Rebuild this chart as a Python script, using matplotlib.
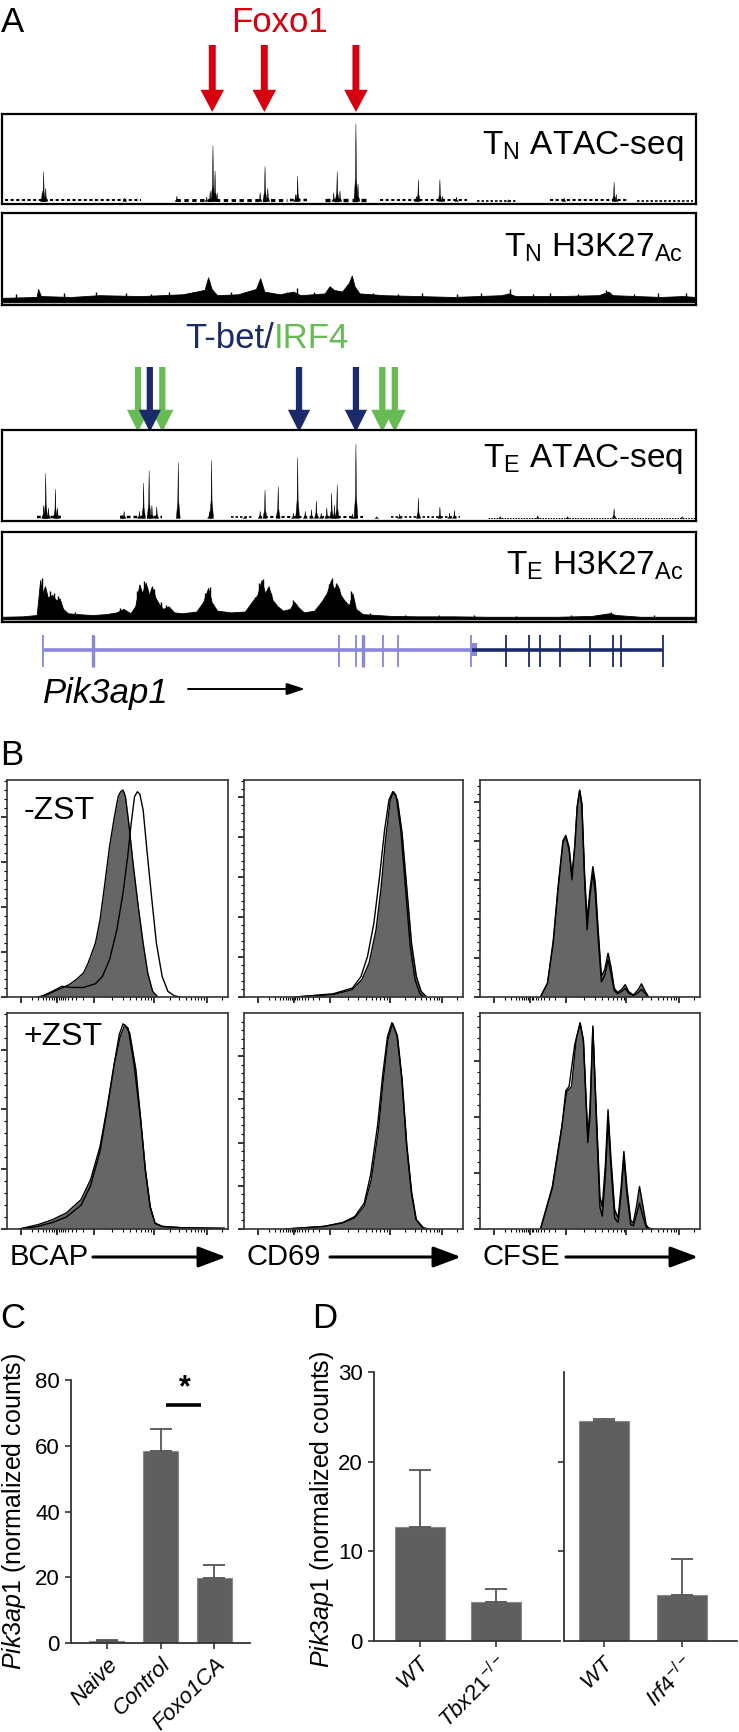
import numpy as np
import matplotlib
matplotlib.use("Agg")
import matplotlib.pyplot as plt
from matplotlib.patches import FancyArrowPatch

plt.rcParams['font.family'] = ['Liberation Sans', 'DejaVu Sans']
plt.rcParams['mathtext.fontset'] = 'custom'
plt.rcParams['mathtext.rm'] = 'Liberation Sans'
plt.rcParams['mathtext.it'] = 'Liberation Sans:italic'

W, H = 739, 1732
fig = plt.figure(figsize=(W / 100, H / 100), dpi=100)

# ---------------- data ----------------
# panel A, positions as fraction of the shown locus, heights as fraction of track
foxo1_sites = [0.303, 0.378, 0.510]
tbet_sites = [0.213, 0.428, 0.510]
irf4_sites = [0.196, 0.231, 0.548, 0.566]

tn_atac_peaks = [(0.060, 0.34), (0.058, 0.12), (0.063, 0.15), (0.177, 0.04), (0.252, 0.06),
                 (0.295, 0.05), (0.300, 0.12), (0.304, 0.64), (0.307, 0.35), (0.310, 0.10),
                 (0.372, 0.10), (0.379, 0.40), (0.383, 0.15), (0.423, 0.08), (0.426, 0.29),
                 (0.478, 0.10), (0.483, 0.34), (0.487, 0.12), (0.510, 0.89), (0.513, 0.20),
                 (0.597, 0.06), (0.600, 0.25), (0.631, 0.25), (0.635, 0.06), (0.655, 0.05),
                 (0.730, 0.02), (0.810, 0.04), (0.882, 0.22), (0.885, 0.08)]
tn_atac_base = [(0.005, 0.20, 0.025), (0.25, 0.41, 0.035), (0.415, 0.44, 0.03), (0.465, 0.53, 0.04),
                (0.545, 0.67, 0.025), (0.685, 0.74, 0.02), (0.79, 0.90, 0.025), (0.915, 0.995, 0.02)]

te_atac_peaks = [(0.063, 0.51), (0.060, 0.15), (0.067, 0.12), (0.077, 0.33), (0.080, 0.12),
                 (0.173, 0.04), (0.176, 0.08), (0.198, 0.08), (0.204, 0.40), (0.212, 0.54),
                 (0.216, 0.15), (0.223, 0.13), (0.254, 0.63), (0.299, 0.08), (0.302, 0.66),
                 (0.350, 0.02), (0.372, 0.08), (0.379, 0.32), (0.398, 0.36), (0.420, 0.06),
                 (0.426, 0.69), (0.437, 0.08), (0.446, 0.10), (0.453, 0.20), (0.460, 0.06),
                 (0.468, 0.12), (0.475, 0.29), (0.479, 0.15), (0.483, 0.38), (0.505, 0.05),
                 (0.510, 0.84), (0.540, 0.02), (0.573, 0.05), (0.600, 0.23), (0.631, 0.13),
                 (0.645, 0.06), (0.652, 0.09), (0.718, 0.02), (0.772, 0.03), (0.815, 0.02),
                 (0.882, 0.11), (0.980, 0.02)]
te_atac_base = [(0.05, 0.09, 0.03), (0.17, 0.23, 0.03), (0.33, 0.36, 0.02), (0.37, 0.52, 0.025),
                (0.56, 0.66, 0.02), (0.70, 1.0, 0.012)]

tn_h3k27_x = [0, 0.05, 0.052, 0.056, 0.10, 0.14, 0.20, 0.26, 0.28, 0.292, 0.297, 0.302, 0.31,
              0.34, 0.366, 0.372, 0.378, 0.40, 0.42, 0.43, 0.465, 0.472, 0.478, 0.49, 0.50,
              0.504, 0.508, 0.515, 0.55, 0.60, 0.65, 0.72, 0.73, 0.74, 0.80, 0.86, 0.874,
              0.88, 0.95, 0.98, 1.0]
tn_h3k27_y = [0.05, 0.06, 0.15, 0.07, 0.06, 0.08, 0.07, 0.09, 0.12, 0.14, 0.28, 0.15, 0.08,
              0.09, 0.15, 0.27, 0.12, 0.09, 0.12, 0.08, 0.10, 0.18, 0.14, 0.12, 0.22,
              0.30, 0.18, 0.10, 0.08, 0.07, 0.06, 0.08, 0.10, 0.07, 0.07, 0.08, 0.12,
              0.08, 0.06, 0.07, 0.06]
tn_h3k27_spikes = [(0.02, 0.09), (0.09, 0.10), (0.135, 0.11), (0.178, 0.10), (0.215, 0.09),
                   (0.24, 0.11), (0.275, 0.12), (0.33, 0.12), (0.35, 0.11), (0.41, 0.12),
                   (0.425, 0.16), (0.45, 0.11), (0.535, 0.10), (0.57, 0.09), (0.605, 0.10),
                   (0.655, 0.09), (0.69, 0.10), (0.732, 0.15), (0.765, 0.09), (0.79, 0.10),
                   (0.83, 0.09), (0.87, 0.14), (0.91, 0.09), (0.945, 0.10), (0.985, 0.10)]

te_h3k27_x = [0.0, 0.03, 0.05, 0.055, 0.058, 0.062, 0.066, 0.072, 0.078, 0.083, 0.088, 0.095,
              0.11, 0.13, 0.15, 0.165, 0.175, 0.185, 0.192, 0.198, 0.202, 0.207, 0.212, 0.216,
              0.221, 0.226, 0.232, 0.24, 0.248, 0.26, 0.27, 0.28, 0.29, 0.297, 0.302, 0.31,
              0.33, 0.35, 0.36, 0.368, 0.374, 0.379, 0.384, 0.39, 0.397, 0.405, 0.415, 0.421,
              0.427, 0.435, 0.45, 0.46, 0.468, 0.474, 0.478, 0.483, 0.488, 0.493, 0.50, 0.505,
              0.51, 0.52, 0.54, 0.56, 0.60, 0.65, 0.70, 0.75, 0.80, 0.85, 0.875, 0.885, 0.92,
              0.96, 1.0]
te_h3k27_y = [0.03, 0.035, 0.05, 0.45, 0.30, 0.38, 0.25, 0.28, 0.22, 0.24, 0.12, 0.07,
              0.06, 0.05, 0.06, 0.08, 0.12, 0.07, 0.15, 0.40, 0.30, 0.42, 0.28, 0.38,
              0.25, 0.18, 0.12, 0.15, 0.08, 0.07, 0.08, 0.09, 0.20, 0.36, 0.20, 0.10,
              0.08, 0.09, 0.20, 0.28, 0.45, 0.30, 0.38, 0.22, 0.15, 0.10, 0.12, 0.20,
              0.14, 0.08, 0.10, 0.20, 0.30, 0.45, 0.35, 0.40, 0.28, 0.22, 0.16, 0.30,
              0.12, 0.06, 0.05, 0.04, 0.035, 0.035, 0.03, 0.03, 0.03, 0.04, 0.07, 0.05, 0.03,
              0.03, 0.03]
te_h3k27_spikes = [(0.057, 0.47), (0.069, 0.33), (0.075, 0.30), (0.081, 0.27), (0.105, 0.08),
                   (0.17, 0.13), (0.195, 0.33), (0.204, 0.44), (0.209, 0.36), (0.219, 0.35),
                   (0.229, 0.20), (0.237, 0.17), (0.293, 0.30), (0.299, 0.37), (0.365, 0.26),
                   (0.371, 0.42), (0.376, 0.46), (0.387, 0.30), (0.419, 0.22), (0.424, 0.18),
                   (0.465, 0.26), (0.471, 0.40), (0.476, 0.47), (0.481, 0.42), (0.486, 0.36),
                   (0.503, 0.32), (0.53, 0.07), (0.58, 0.05), (0.63, 0.05), (0.68, 0.045),
                   (0.74, 0.04), (0.82, 0.045), (0.878, 0.08), (0.94, 0.045)]

exons_light = [0.059, 0.131, 0.486, 0.510, 0.520, 0.549, 0.571, 0.676]
exons_dark = [0.726, 0.759, 0.775, 0.804, 0.847, 0.880, 0.892, 0.952]

# panel B histograms (x: fraction of axis, y: fraction of axis height)
bcap_minus_zst = [(0.140, 0), (0.184, 0.011), (0.248, 0.041), (0.281, 0.057), (0.313, 0.080),
                  (0.346, 0.111), (0.367, 0.156), (0.400, 0.248), (0.421, 0.356), (0.443, 0.525),
                  (0.464, 0.693), (0.486, 0.831), (0.503, 0.923), (0.514, 0.946), (0.525, 0.954),
                  (0.536, 0.923), (0.551, 0.801), (0.572, 0.601), (0.594, 0.417), (0.616, 0.248),
                  (0.637, 0.110), (0.659, 0.026), (0.680, 0.003)]
bcap_minus_ctrl = [(0.151, 0), (0.205, 0.026), (0.248, 0.049), (0.292, 0.044), (0.346, 0.044),
                   (0.400, 0.061), (0.432, 0.095), (0.464, 0.172), (0.497, 0.310), (0.525, 0.479),
                   (0.546, 0.647), (0.562, 0.801), (0.577, 0.923), (0.590, 0.946), (0.601, 0.935),
                   (0.616, 0.862), (0.633, 0.678), (0.654, 0.463), (0.676, 0.248), (0.702, 0.095),
                   (0.728, 0.026), (0.756, 0.006), (0.784, 0)]
cd69_minus_zst = [(0.234, 0), (0.408, 0.011), (0.495, 0.034), (0.538, 0.080), (0.571, 0.156),
                  (0.603, 0.310), (0.625, 0.494), (0.646, 0.724), (0.668, 0.908), (0.683, 0.946),
                  (0.701, 0.908), (0.722, 0.755), (0.744, 0.494), (0.765, 0.248), (0.787, 0.095),
                  (0.809, 0.026), (0.831, 0.003)]
cd69_minus_ctrl = [(0.234, 0), (0.408, 0.015), (0.495, 0.041), (0.534, 0.094), (0.564, 0.187),
                   (0.593, 0.340), (0.619, 0.555), (0.642, 0.770), (0.662, 0.908), (0.679, 0.946),
                   (0.694, 0.931), (0.716, 0.770), (0.738, 0.494), (0.759, 0.233), (0.781, 0.080),
                   (0.803, 0.015), (0.820, 0)]
cfse_minus_zst = [(0.275, 0), (0.307, 0.064), (0.333, 0.248), (0.355, 0.494), (0.377, 0.709),
                  (0.390, 0.739), (0.405, 0.678), (0.418, 0.540), (0.431, 0.693), (0.442, 0.877),
                  (0.453, 0.954), (0.463, 0.893), (0.476, 0.555), (0.487, 0.356), (0.500, 0.494),
                  (0.513, 0.601), (0.524, 0.525), (0.537, 0.310), (0.552, 0.095), (0.567, 0.126),
                  (0.582, 0.202), (0.595, 0.141), (0.610, 0.041), (0.625, 0.021), (0.643, 0.034),
                  (0.660, 0.057), (0.675, 0.026), (0.697, 0.009), (0.719, 0.034), (0.734, 0.061),
                  (0.747, 0.034), (0.766, 0)]
cfse_minus_ctrl = [(0.275, 0), (0.307, 0.064), (0.333, 0.260), (0.355, 0.510), (0.377, 0.720),
                   (0.390, 0.745), (0.405, 0.690), (0.418, 0.560), (0.431, 0.700), (0.442, 0.880),
                   (0.453, 0.950), (0.463, 0.880), (0.476, 0.520), (0.487, 0.310), (0.500, 0.470),
                   (0.513, 0.570), (0.524, 0.480), (0.537, 0.270), (0.552, 0.070), (0.567, 0.100),
                   (0.582, 0.170), (0.595, 0.110), (0.610, 0.030), (0.625, 0.015), (0.643, 0.025),
                   (0.660, 0.040), (0.675, 0.018), (0.697, 0.006), (0.719, 0.020), (0.734, 0.035),
                   (0.747, 0.020), (0.766, 0)]
bcap_plus_zst = [(0.054, 0), (0.140, 0.020), (0.205, 0.043), (0.268, 0.074), (0.335, 0.136),
                 (0.378, 0.228), (0.421, 0.382), (0.454, 0.567), (0.486, 0.767), (0.512, 0.890),
                 (0.533, 0.945), (0.555, 0.908), (0.583, 0.739), (0.605, 0.508), (0.626, 0.277),
                 (0.648, 0.104), (0.670, 0.028), (0.702, 0.012), (0.788, 0.006), (0.983, 0.003)]
bcap_plus_ctrl = [(0.054, 0), (0.140, 0.012), (0.205, 0.030), (0.268, 0.055), (0.335, 0.110),
                  (0.378, 0.200), (0.421, 0.360), (0.454, 0.560), (0.486, 0.770), (0.508, 0.900),
                  (0.525, 0.950), (0.548, 0.930), (0.575, 0.760), (0.605, 0.500), (0.626, 0.270),
                  (0.648, 0.100), (0.670, 0.025), (0.702, 0.012), (0.788, 0.006), (0.983, 0.003)]
cd69_plus_zst = [(0.191, 0), (0.365, 0.012), (0.451, 0.028), (0.506, 0.051), (0.549, 0.105),
                 (0.581, 0.228), (0.614, 0.459), (0.636, 0.690), (0.657, 0.875), (0.679, 0.952),
                 (0.701, 0.891), (0.722, 0.690), (0.744, 0.382), (0.766, 0.166), (0.787, 0.043),
                 (0.820, 0.005), (0.842, 0)]
cd69_plus_ctrl = [(0.191, 0), (0.365, 0.012), (0.451, 0.030), (0.506, 0.058), (0.549, 0.120),
                  (0.578, 0.250), (0.610, 0.480), (0.633, 0.710), (0.655, 0.890), (0.675, 0.955),
                  (0.698, 0.900), (0.720, 0.700), (0.742, 0.390), (0.764, 0.170), (0.785, 0.045),
                  (0.815, 0.005), (0.842, 0)]
cfse_plus_zst = [(0.275, 0), (0.329, 0.197), (0.372, 0.475), (0.394, 0.636), (0.416, 0.659),
                 (0.437, 0.875), (0.455, 0.952), (0.470, 0.875), (0.490, 0.430), (0.500, 0.560),
                 (0.513, 0.940), (0.528, 0.560), (0.545, 0.150), (0.556, 0.105), (0.570, 0.300),
                 (0.582, 0.552), (0.595, 0.330), (0.612, 0.090), (0.628, 0.051), (0.642, 0.200),
                 (0.654, 0.359), (0.668, 0.190), (0.685, 0.040), (0.697, 0.028), (0.712, 0.110),
                 (0.725, 0.197), (0.740, 0.110), (0.755, 0.020), (0.766, 0.005), (0.784, 0)]
cfse_plus_ctrl = [(0.275, 0), (0.329, 0.19), (0.372, 0.47), (0.390, 0.64), (0.405, 0.66),
                  (0.430, 0.85), (0.455, 0.955), (0.470, 0.87), (0.490, 0.40), (0.500, 0.52),
                  (0.513, 0.93), (0.528, 0.52), (0.545, 0.10), (0.556, 0.06), (0.570, 0.25),
                  (0.582, 0.50), (0.595, 0.29), (0.612, 0.05), (0.628, 0.03), (0.642, 0.17),
                  (0.654, 0.33), (0.668, 0.16), (0.685, 0.02), (0.697, 0.015), (0.712, 0.07),
                  (0.725, 0.12), (0.740, 0.06), (0.755, 0.01), (0.766, 0.003), (0.784, 0)]
marker_names = ["BCAP", "CD69", "CFSE"]
ytick_step_minus = [0.207, 0.184, 0.180]
ytick_step_plus = [0.277, 0.200, 0.260]
flow_major = [0.065, 0.227, 0.393, 0.665, 0.903]

# panel C
c_groups = ["Naive", "Control", "Foxo1CA"]
c_means = [0.6, 58.5, 19.8]
c_errs = [0.4, 6.7, 3.8]
c_sig_y = 72.4

# panel D
d1_groups = ["WT", "Tbx21"]
d1_means = [12.7, 4.3]
d1_errs = [6.4, 1.5]
d2_groups = ["WT", "Irf4"]
d2_means = [24.5, 5.1]
d2_errs = [0.3, 4.0]

RED = '#d7000f'
NAVY = '#1b2a68'
GREEN = '#66bb55'
LAV = '#8a86dc'
BAR = '#5f5f5f'


def ax_px(x0, y0, x1, y1):
    return fig.add_axes([x0 / W, 1 - y1 / H, (x1 - x0) / W, (y1 - y0) / H])


def ftxt(x, y, s, **kw):
    return fig.text(x / W, 1 - y / H, s, **kw)


# ---------------- panel A ----------------
def track_box(y0, y1):
    ax = ax_px(2, y0, 696, y1)
    ax.set_xlim(0, 1)
    ax.set_ylim(-0.03, 1.0)
    ax.set_xticks([])
    ax.set_yticks([])
    for s in ax.spines.values():
        s.set_linewidth(1.6)
    return ax


def draw_atac(ax, peaks, base):
    # background reads: short broken marks along the baseline
    for a, b, h in base:
        ax.hlines(h / 2, a, b, color='k', lw=h * 60, linestyles=(0, (1.5, 1.2)))
    w = 0.0028
    for x, h in peaks:
        ax.fill([x - w, x - w * 0.25, x, x + w * 0.25, x + w], [0, h * 0.3, h, h * 0.3, 0],
                color='k', lw=0.3)


def draw_h3(ax, xs, ys, spikes):
    ax.fill_between(xs, 0, ys, color='k', lw=0.6)
    sx, sy = zip(*spikes)
    ax.vlines(sx, 0, sy, color='k', lw=1.0)


def arrows(y0, y1, sites, color, tail=0.5, head=1.7):
    ax = ax_px(2, y0, 696, y1)
    ax.set_xlim(0, 1)
    ax.set_ylim(0, 1)
    ax.axis('off')
    style = 'simple,head_length=1.6,head_width=%.2f,tail_width=%.2f' % (head, tail)
    for x in sites:
        ax.add_patch(FancyArrowPatch((x, 1), (x, 0), arrowstyle=style,
                                     mutation_scale=10, color=color, lw=0, shrinkA=0, shrinkB=0))
    return ax


ftxt(1, 6, 'A', fontsize=25, va='top')
ftxt(280, 32, 'Foxo1', fontsize=25, color=RED, ha='center', va='baseline')
arrows(45, 112, foxo1_sites, RED)

ax = track_box(114, 204)
draw_atac(ax, tn_atac_peaks, tn_atac_base)
ftxt(683, 154, r'T$_\mathregular{N}$ ATAC-seq', fontsize=24, ha='right', va='baseline')

ax = track_box(213, 305)
draw_h3(ax, tn_h3k27_x, tn_h3k27_y, tn_h3k27_spikes)
ftxt(683, 257, r'T$_\mathregular{N}$ H3K27$_\mathregular{Ac}$', fontsize=24, ha='right', va='baseline')

ftxt(274, 348, 'T-bet/', fontsize=25, color=NAVY, ha='right', va='baseline')
ftxt(274, 348, 'IRF4', fontsize=25, color=GREEN, ha='left', va='baseline')
arrows(367, 432, irf4_sites, GREEN, tail=0.45, head=1.6)
arrows(367, 432, tbet_sites, NAVY, tail=0.45, head=1.6)

ax = track_box(430, 521)
draw_atac(ax, te_atac_peaks, te_atac_base)
ftxt(683, 467, r'T$_\mathregular{E}$ ATAC-seq', fontsize=24, ha='right', va='baseline')

ax = track_box(532, 622)
draw_h3(ax, te_h3k27_x, te_h3k27_y, te_h3k27_spikes)
ftxt(683, 575, r'T$_\mathregular{E}$ H3K27$_\mathregular{Ac}$', fontsize=24, ha='right', va='baseline')

# gene model
ax = ax_px(2, 630, 696, 672)
ax.set_xlim(0, 1)
ax.set_ylim(0, 1)
ax.axis('off')
ax.plot([exons_light[0], exons_light[-1]], [0.52, 0.52], color=LAV, lw=2.6, solid_capstyle='butt')
ax.plot([exons_light[-1], exons_dark[-1]], [0.52, 0.52], color=NAVY, lw=2.6, solid_capstyle='butt')
ax.vlines(exons_light, 0.12, 0.88, color=LAV, lw=1.3)
ax.vlines(exons_dark, 0.12, 0.88, color=NAVY, lw=1.3)
ax.vlines([exons_light[1], exons_light[4]], 0.12, 0.88, color=LAV, lw=2.4)
ax.fill_between([exons_light[-1], exons_light[-1] + 0.009], 0.38, 0.68, color=LAV, lw=0)

ftxt(43, 693, 'Pik3ap1', fontsize=25, style='italic', va='center')
fig.add_artist(FancyArrowPatch((188 / W, 1 - 689 / H), (305 / W, 1 - 689 / H), transform=fig.transFigure,
                               arrowstyle='-|>,head_length=0.55,head_width=0.18', mutation_scale=20,
                               color='k', lw=1.4, shrinkA=0, shrinkB=0))

# ---------------- panel B ----------------
ftxt(0, 739, 'B', fontsize=25, va='top')

minor = []
for k in range(2, 10):
    f = 1 - np.log10(k)
    minor.append(flow_major[1] - (flow_major[1] - flow_major[0]) * f)
    minor.append(flow_major[1] + (flow_major[2] - flow_major[1]) * f)
    minor.append(flow_major[2] + (flow_major[3] - flow_major[2]) * np.log10(k))
    minor.append(flow_major[3] + (flow_major[4] - flow_major[3]) * np.log10(k))
minor.append(flow_major[4] + (flow_major[4] - flow_major[3]) * np.log10(2))
minor.append(flow_major[4] + (flow_major[4] - flow_major[3]) * np.log10(3))
minor = [m for m in minor if m < 0.995]

cols = [(7, 228), (244, 463), (480, 700)]
rows = [((780, 997), [(bcap_minus_zst, bcap_minus_ctrl), (cd69_minus_zst, cd69_minus_ctrl),
                      (cfse_minus_zst, cfse_minus_ctrl)], ytick_step_minus, '-ZST'),
        ((1013, 1229), [(bcap_plus_zst, bcap_plus_ctrl), (cd69_plus_zst, cd69_plus_ctrl),
                        (cfse_plus_zst, cfse_plus_ctrl)], ytick_step_plus, '+ZST')]

for (y0, y1), curves, steps, lab in rows:
    for j, (x0, x1) in enumerate(cols):
        ax = ax_px(x0, y0, x1, y1)
        filled, ctrl = curves[j]
        fx, fy = zip(*filled)
        cx, cy = zip(*ctrl)
        ax.fill_between(fx, 0, fy, color='#666666', lw=0)
        ax.plot(fx, fy, color='k', lw=1.0)
        ax.plot(cx, cy, color='k', lw=1.0)
        ax.set_xlim(0, 1)
        ax.set_ylim(0, 1)
        ax.set_xticks(flow_major)
        ax.set_xticks(minor, minor=True)
        st = steps[j]
        ax.set_yticks(np.arange(0, 0.999, st))
        ax.set_yticks(np.arange(0, 0.999, st / 5), minor=True)
        ax.tick_params(which='major', direction='out', length=4, width=1.1, labelbottom=False, labelleft=False)
        ax.tick_params(which='minor', direction='out', length=2, width=0.8)
        for s in ax.spines.values():
            s.set_linewidth(1.2)
            s.set_color('#333333')
        if j == 0:
            ax.text(0.075, 0.855 if lab == '-ZST' else 0.89, lab, transform=ax.transAxes,
                    fontsize=23, va='center')

for j, (x0, x1) in enumerate(cols):
    ftxt(x0 + 3, 1257, marker_names[j], fontsize=21, va='center')
    fig.add_artist(FancyArrowPatch(((x0 + 86) / W, 1 - 1257 / H), ((x1 - 2) / W, 1 - 1257 / H),
                                   transform=fig.transFigure,
                                   arrowstyle='-|>,head_length=0.85,head_width=0.32', mutation_scale=20,
                                   color='k', lw=2.2, shrinkA=0, shrinkB=0))

# ---------------- panel C ----------------
ftxt(0, 1302, 'C', fontsize=25, va='top')
ftxt(312, 1302, 'D', fontsize=25, va='top')


def bar_axes(ax, names, means, errs, ymax, step, labels=True, ticks=None):
    xs = np.arange(len(names))
    ax.bar(xs, means, width=0.65, color=BAR, edgecolor='#8a8a8a', lw=0.8, zorder=2)
    ax.errorbar(xs, means, yerr=[np.zeros(len(xs)), errs], fmt='none', ecolor='#555555',
                elinewidth=1.3, capsize=8, capthick=1.3, zorder=3)
    ax.set_ylim(0, ymax)
    ax.set_yticks(ticks if ticks is not None else np.arange(0, ymax + 0.1, step))
    for s in ['top', 'right']:
        ax.spines[s].set_visible(False)
    for s in ['left', 'bottom']:
        ax.spines[s].set_linewidth(1.3)
        ax.spines[s].set_color('#333333')
    ax.tick_params(direction='out', length=4.5, width=1.2, colors='#333333', labelsize=16,
                   labelcolor='k', labelleft=labels)
    ax.set_xticks(xs)
    return xs


axc = ax_px(71, 1380, 250, 1643)
bar_axes(axc, c_groups, c_means, c_errs, 80, 20)
axc.set_xlim(-0.667, 2.667)
axc.set_xticklabels(c_groups, rotation=45, ha='right', rotation_mode='anchor', style='italic', fontsize=16)
axc.plot([1.11, 1.76], [c_sig_y, c_sig_y], color='k', lw=2.6, clip_on=False, solid_capstyle='butt')
axc.text(1.46, c_sig_y + 0.5, '*', fontsize=22, ha='center', va='bottom', fontweight='bold')
ftxt(14, 1511, r'$\mathit{Pik3ap1}$ (normalized counts)', fontsize=18, rotation=90, ha='center', va='center')

# ---------------- panel D ----------------
axd1 = ax_px(374, 1372, 560, 1641)
bar_axes(axd1, d1_groups, d1_means, d1_errs, 30, 10)
axd1.set_xlim(-0.605, 1.84)
axd1.set_xticklabels([r'$\mathit{WT}$', r'$\mathit{Tbx21}^{\mathregular{-/-}}$'], rotation=45, ha='right',
                     rotation_mode='anchor', fontsize=16)

axd2 = ax_px(564, 1372, 737, 1641)
bar_axes(axd2, d2_groups, d2_means, d2_errs, 30, 10, labels=False, ticks=[10, 20])
axd2.set_xlim(-0.513, 1.705)
axd2.set_xticklabels([r'$\mathit{WT}$', r'$\mathit{Irf4}^{\mathregular{-/-}}$'], rotation=45, ha='right',
                     rotation_mode='anchor', fontsize=16)
ftxt(322, 1509, r'$\mathit{Pik3ap1}$ (normalized counts)', fontsize=18, rotation=90, ha='center', va='center')

fig.savefig('out.png', dpi=100, facecolor='white')
